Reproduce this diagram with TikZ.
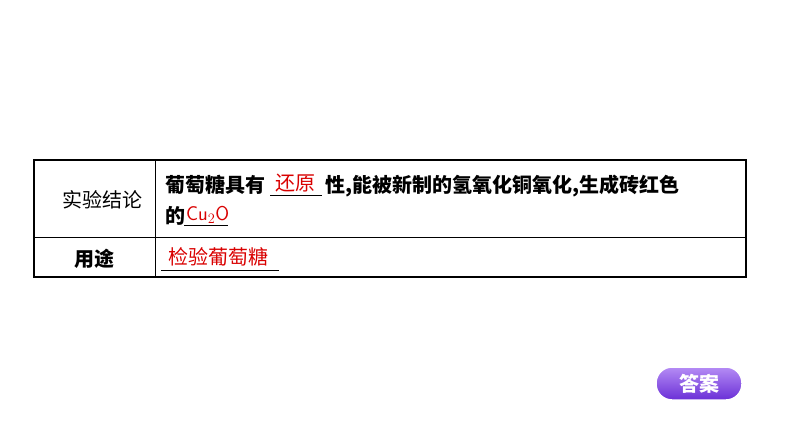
\documentclass[tikz,border=0pt]{standalone}
\usepackage{fontspec}
\newfontfamily\cjk{Noto Sans CJK SC}
\definecolor{btntop}{HTML}{B58CF5}
\definecolor{btnbot}{HTML}{6A2FD6}
\tikzset{
  t/.style={font=\cjk\bfseries\fontsize{20}{20}\selectfont, inner sep=0pt, anchor=base west},
  red/.style={t, font=\cjk\fontsize{20}{20}\selectfont, text=red!85!black},
  ul/.style={line width=0.8pt},
}
\begin{document}
\begin{tikzpicture}[x=1pt,y=-1pt]
\useasboundingbox (0,0) rectangle (794,447);
\draw[line width=1.2pt] (34,160) rectangle (746,277);
\draw[line width=0.6pt] (155,160) -- (155,277);
\draw[line width=0.6pt] (34,237) -- (746,237);
\node[t, font=\cjk\fontsize{20}{20}\selectfont] (a) at (62,207) {实验结论};
\node[t] (b) at (74,266) {用途};
\node[t] (l1) at (165,192) {葡萄糖具有};
\node[red] (r1) at (275,190) {还原};
\draw[ul] (270,195) -- (322,195);
\node[t] (l1b) at (325,192) {性,能被新制的氢氧化铜氧化,生成砖红色};
\node[t] (l2) at (165,223) {的};
\node[red, font=\fontsize{20}{20}\selectfont\sffamily] (r2) at (186,220) {Cu$_2$O};
\draw[ul] (184,225) -- (228,225);
\node[red] (r3) at (168,264) {检验葡萄糖};
\draw[ul] (161,270) -- (279,270);
\shade[top color=btntop, bottom color=btnbot, rounded corners=16pt, draw=white, line width=1.5pt] (656,367) rectangle (742,400);
\node[font=\cjk\bfseries\fontsize{20}{20}\selectfont, text=white] (btn) at (699,384) {答案};
\end{tikzpicture}
\end{document}
